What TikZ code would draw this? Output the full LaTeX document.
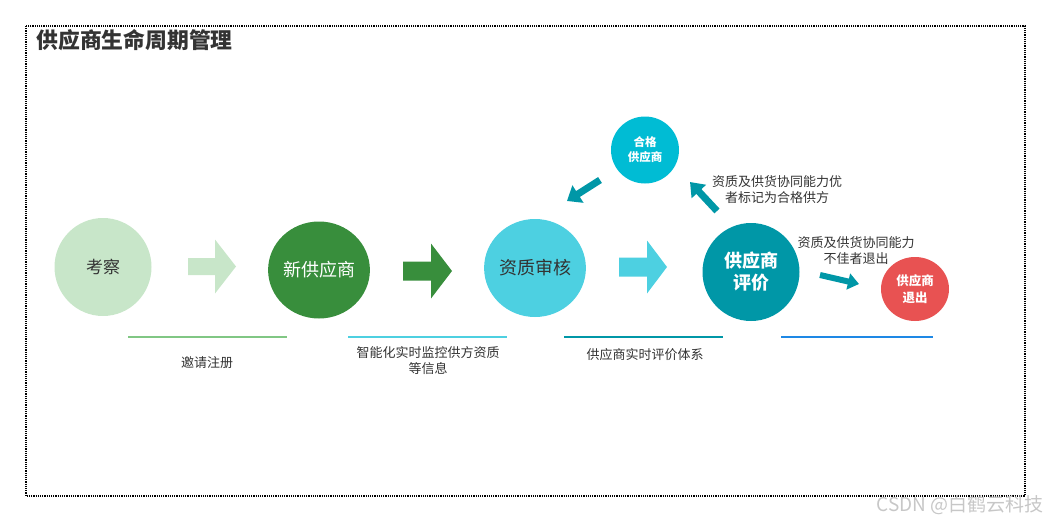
\documentclass[tikz,border=0pt]{standalone}
\usepackage{fontspec}
\setmainfont{Noto Sans CJK SC}
\usetikzlibrary{shapes.geometric,arrows.meta}
\definecolor{lgreen}{HTML}{C8E6C9}
\definecolor{dgreen}{HTML}{388E3C}
\definecolor{cyanA}{HTML}{4DD0E1}
\definecolor{tealA}{HTML}{0097A7}
\definecolor{cyanB}{HTML}{00BCD4}
\definecolor{redA}{HTML}{E85252}
\definecolor{lineG}{HTML}{81C784}
\definecolor{lineB}{HTML}{1E88E5}
\definecolor{txt}{HTML}{333333}
\tikzset{
  stage/.style={ellipse, inner sep=0pt, align=center},
  note/.style={font=\fontsize{13}{16}\selectfont, text=txt, align=center},
  uline/.style={line width=2pt},
  darrow/.style={line width=7pt, -{Triangle[length=13pt,width=20pt]}}
}
% #1 tail x, #2 head start x, #3 tip x, #4 centre y, #5 half body, #6 half head, #7 colour
\newcommand\myblockarrow[7]{%
  \fill[#7] (#1,#4-#5) -- (#2,#4-#5) -- (#2,#4-#6) -- (#3,#4) -- (#2,#4+#6) -- (#2,#4+#5) -- (#1,#4+#5) -- cycle;}
\begin{document}
\begin{tikzpicture}[x=1pt,y=-1pt]
\useasboundingbox (0,0) rectangle (1050,522);
\draw[densely dotted, line width=1.2pt] (26,26) rectangle (1025,496);
\node[anchor=west, font=\fontsize{21.8}{26}\selectfont\bfseries, text=txt] (title) at (33,40) {供应商生命周期管理};

\node[stage, fill=lgreen, minimum width=97pt, minimum height=98pt, font=\fontsize{17}{20}\selectfont, text=txt] (kc) at (103,267) {考察};
\node[stage, fill=dgreen, minimum width=97pt, minimum height=97pt, font=\fontsize{18}{22}\selectfont, text=white] (xgys) at (319,270) {新供应商};
\node[stage, fill=cyanA, minimum width=97pt, minimum height=98pt, font=\fontsize{18}{22}\selectfont, text=txt] (zzsh) at (535,268) {资质审核};
\node[stage, fill=tealA, minimum width=97pt, minimum height=98pt, font=\fontsize{18}{22}\selectfont\bfseries, text=white] (pj) at (751,272) {供应商\\评价};
\node[stage, fill=cyanB, minimum width=68pt, minimum height=67pt, font=\fontsize{11.5}{15}\selectfont\bfseries, text=white] (hg) at (645,150) {合格\\供应商};
\node[stage, fill=redA, minimum width=68pt, minimum height=64pt, font=\fontsize{12.5}{17}\selectfont\bfseries, text=white] (tc) at (915,289) {供应商\\退出};

\myblockarrow{188}{215}{236}{266.5}{8.5}{27}{lgreen}
\myblockarrow{403}{431}{452}{271}{9.5}{27.5}{dgreen}
\myblockarrow{619}{647}{667}{267}{9.5}{26.5}{cyanA}

\coordinate (p1s) at (717,211);
\coordinate (p1e) at (690,182);
\coordinate (p2s) at (600,180);
\coordinate (p2e) at (567,201);
\coordinate (p3s) at (820,275);
\coordinate (p3e) at (859,284);
\draw[darrow, draw=tealA, fill=tealA, -{Triangle[length=13pt,width=19pt]}] (p1s) -- (p1e);
\draw[darrow, draw=tealA, fill=tealA] (p2s) -- (p2e);
\draw[darrow, draw=tealA, fill=tealA, line width=6pt, -{Triangle[length=11pt,width=16pt]}] (p3s) -- (p3e);

\node[note] (n1) at (777,190) {资质及供货协同能力优\\者标记为合格供方};
\node[note] (n2) at (856,251) {资质及供货协同能力\\不佳者退出};

\coordinate (l1a) at (128,337); \coordinate (l1b) at (287,337);
\coordinate (l2a) at (348,337); \coordinate (l2b) at (507,337);
\coordinate (l3a) at (564,337); \coordinate (l3b) at (723,337);
\coordinate (l4a) at (781,337); \coordinate (l4b) at (933,337);
\draw[uline, draw=lineG] (l1a) -- (l1b);
\draw[uline, draw=cyanA] (l2a) -- (l2b);
\draw[uline, draw=tealA] (l3a) -- (l3b);
\draw[uline, draw=lineB] (l4a) -- (l4b);

\node[note] (b1) at (207,363) {邀请注册};
\node[note] (b2) at (428,361) {智能化实时监控供方资质\\等信息};
\node[note] (b3) at (645,355) {供应商实时评价体系};

\node[anchor=east, font=\fontsize{19}{22}\selectfont, text=black!22] (wm) at (1047,505) {CSDN @白鹤云科技};
\end{tikzpicture}
\end{document}
